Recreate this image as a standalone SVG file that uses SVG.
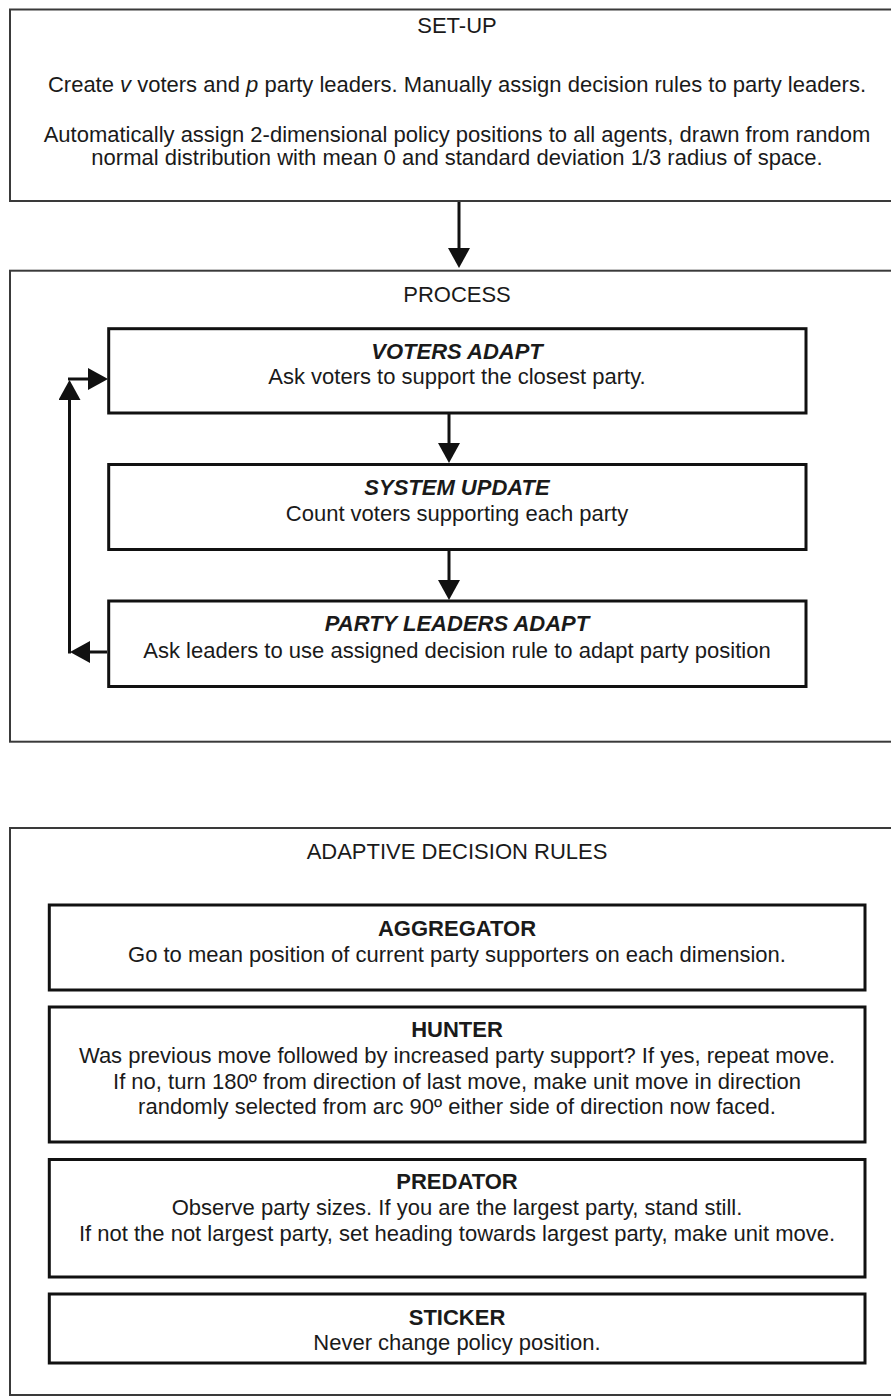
<svg xmlns="http://www.w3.org/2000/svg" width="891" height="1399" viewBox="0 0 891 1399">
<style>
.outer{fill:#fff;stroke:#3a3a3a;stroke-width:2}
.box{fill:#fff;stroke:#111;stroke-width:3}
.t{font-family:"Liberation Sans",Arial,sans-serif;font-size:22px;fill:#1a1a1a;text-anchor:middle}
.b{font-weight:bold}
.bi{font-weight:bold;font-style:italic}
.i{font-style:italic}
.conn{stroke:#111;stroke-width:3;fill:none}
</style>
<defs>
<marker id="ah" viewBox="0 0 20 22" refX="0" refY="11" markerWidth="20" markerHeight="22" markerUnits="userSpaceOnUse" orient="auto">
<path d="M0,0 L20,11 L0,22 z" fill="#111"/>
</marker>
</defs>
<rect width="891" height="1399" fill="#fff"/>
<g id="setup">
<rect class="outer" x="10" y="9.5" width="900" height="191.5"/>
<text class="t" x="457" y="33">SET-UP</text>
<text class="t" x="457" y="92">Create <tspan class="i">v</tspan> voters and <tspan class="i">p</tspan> party leaders. Manually assign decision rules to party leaders.</text>
<text class="t" x="457" y="142">Automatically assign 2-dimensional policy positions to all agents, drawn from random</text>
<text class="t" x="457" y="165">normal distribution with mean 0 and standard deviation 1/3 radius of space.</text>
</g>
<g id="process">
<rect class="outer" x="10" y="270.7" width="900" height="471"/>
<text class="t" x="457" y="302">PROCESS</text>
</g>
<g id="voters-adapt">
<rect class="box" x="108.7" y="328.7" width="697.3" height="84.3"/>
<text class="t bi" x="457" y="359">VOTERS ADAPT</text>
<text class="t" x="457" y="384">Ask voters to support the closest party.</text>
</g>
<g id="system-update">
<rect class="box" x="108.7" y="464.5" width="697.3" height="85"/>
<text class="t bi" x="457" y="495">SYSTEM UPDATE</text>
<text class="t" x="457" y="521">Count voters supporting each party</text>
</g>
<g id="party-leaders-adapt">
<rect class="box" x="108.7" y="601" width="697.3" height="85.5"/>
<text class="t bi" x="457" y="631">PARTY LEADERS ADAPT</text>
<text class="t" x="457" y="658">Ask leaders to use assigned decision rule to adapt party position</text>
</g>
<g id="rules">
<rect class="outer" x="10" y="828" width="900" height="567"/>
<text class="t" x="457" y="859">ADAPTIVE DECISION RULES</text>
</g>
<g id="aggregator">
<rect class="box" x="49.3" y="905" width="815.7" height="85"/>
<text class="t b" x="457" y="936">AGGREGATOR</text>
<text class="t" x="457" y="962">Go to mean position of current party supporters on each dimension.</text>
</g>
<g id="hunter">
<rect class="box" x="49.3" y="1007" width="815.7" height="135"/>
<text class="t b" x="457" y="1037">HUNTER</text>
<text class="t" x="457" y="1063">Was previous move followed by increased party support? If yes, repeat move.</text>
<text class="t" x="457" y="1089">If no, turn 180º from direction of last move, make unit move in direction</text>
<text class="t" x="457" y="1114">randomly selected from arc 90º either side of direction now faced.</text>
</g>
<g id="predator">
<rect class="box" x="49.3" y="1159.5" width="815.7" height="117.5"/>
<text class="t b" x="457" y="1189">PREDATOR</text>
<text class="t" x="457" y="1215">Observe party sizes. If you are the largest party, stand still.</text>
<text class="t" x="457" y="1241">If not the not largest party, set heading towards largest party, make unit move.</text>
</g>
<g id="sticker">
<rect class="box" x="49.3" y="1294" width="815.7" height="69"/>
<text class="t b" x="457" y="1325">STICKER</text>
<text class="t" x="457" y="1350">Never change policy position.</text>
</g>
<g id="connectors">
<path class="conn" d="M459,202 V248" marker-end="url(#ah)"/>
<path class="conn" d="M449,414 V443" marker-end="url(#ah)"/>
<path class="conn" d="M449,550 V580" marker-end="url(#ah)"/>
<path class="conn" d="M107,652 H90" marker-end="url(#ah)"/>
<path class="conn" d="M69.5,653.5 V400" marker-end="url(#ah)"/>
<path class="conn" d="M68,379 H88" marker-end="url(#ah)"/>
</g>
</svg>
